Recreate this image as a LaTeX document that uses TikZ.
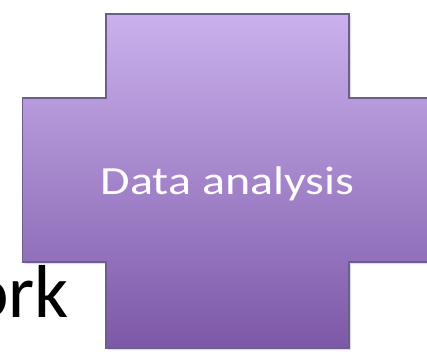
\documentclass[tikz,border=0pt]{standalone}
\usepackage{fontspec}
\setmainfont{Carlito}
\definecolor{crosstop}{RGB}{202,177,237}
\definecolor{crossbot}{RGB}{125,88,168}
\definecolor{crossline}{RGB}{108,94,142}
\definecolor{shadowgray}{RGB}{200,200,200}
\tikzset{
  crossshape/.style={draw=crossline, line width=1.4pt, top color=crosstop, bottom color=crossbot},
  crossshadow/.style={fill=shadowgray, draw=none, opacity=0.6},
  labeltext/.style={text=white!96!crosstop, font=\fontsize{40}{48}\selectfont, inner sep=0pt, xscale=1.2, transform shape},
  bigtext/.style={text=black, font=\fontsize{75}{90}\selectfont, inner sep=0pt}
}
\begin{document}
\begin{tikzpicture}[x=1pt,y=1pt]
\useasboundingbox (0,0) rectangle (427,354);
% shadow
\fill[crossshadow] (108,338) -- (351,338) -- (351,254) -- (442,254) -- (442,90) -- (351,90) -- (351,4) -- (108,4) -- (108,90) -- (24.5,90) -- (24.5,254) -- (108,254) -- cycle;
% cross
\path[crossshape] (106,340) -- (349,340) -- (349,256) -- (440,256) -- (440,92) -- (349,92) -- (349,6) -- (106,6) -- (106,92) -- (22.5,92) -- (22.5,256) -- (106,256) -- cycle;
\node[labeltext, anchor=base] (label) at (227.5,160) {Data analysis};
\node[bigtext, anchor=base east] (ork) at (69,37) {ork};
\end{tikzpicture}
\end{document}
